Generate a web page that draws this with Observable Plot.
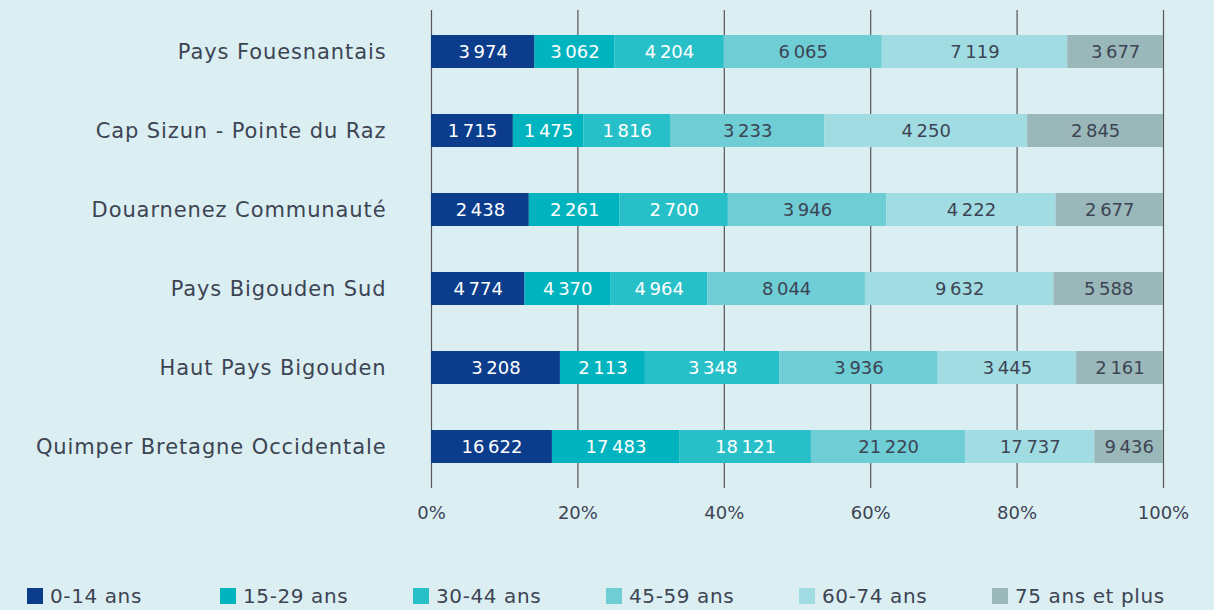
<!DOCTYPE html>
<html>
<head>
<meta charset="utf-8">
<script src="https://cdn.jsdelivr.net/npm/d3@7"></script>
<script src="https://cdn.jsdelivr.net/npm/@observablehq/plot@0.6"></script>
<style>
  html, body { margin: 0; padding: 0; background: #dbeff2; }
  body { width: 1214px; height: 610px; overflow: hidden; font-family: "DejaVu Sans", sans-serif; color: #3d4454; }
  #legend { display: flex; margin-top: 44px; padding-left: 27px; font-size: 20px; line-height: 24px; letter-spacing: 0.6px; }
  .item { display: flex; align-items: center; width: 193px; }
  .sw { width: 16px; height: 16px; margin-right: 7px; }
  .yax text { letter-spacing: 0.9px; }
</style>
</head>
<body>
<div id="chart"></div>
<div id="legend"></div>
<script>
const territories = ["Pays Fouesnantais", "Cap Sizun - Pointe du Raz", "Douarnenez Communauté", "Pays Bigouden Sud", "Haut Pays Bigouden", "Quimper Bretagne Occidentale"];
const ageGroups = ["0-14 ans", "15-29 ans", "30-44 ans", "45-59 ans", "60-74 ans", "75 ans et plus"];
const colors = ["#0c3d8c", "#00b4bf", "#28c0c8", "#6ecdd5", "#a2dce3", "#9ab8b9"];
const labelColors = ["#ffffff", "#ffffff", "#ffffff", "#3d4454", "#3d4454", "#3d4454"];
const age0_14  = [3974, 1715, 2438, 4774, 3208, 16622];
const age15_29 = [3062, 1475, 2261, 4370, 2113, 17483];
const age30_44 = [4204, 1816, 2700, 4964, 3348, 18121];
const age45_59 = [6065, 3233, 3946, 8044, 3936, 21220];
const age60_74 = [7119, 4250, 4222, 9632, 3445, 17737];
const age75    = [3677, 2845, 2677, 5588, 2161, 9436];
const xTicks = [0, 0.2, 0.4, 0.6, 0.8, 1];

const series = [age0_14, age15_29, age30_44, age45_59, age60_74, age75];
const data = [];
territories.forEach((t, i) => {
  series.forEach((s, j) => data.push({territory: t, group: ageGroups[j], gi: j, value: s[i]}));
});
const fmt = d3.formatLocale({decimal: ",", thousands: "\u2009", grouping: [3], currency: ["", "€"]}).format(",d");
const font = "DejaVu Sans, sans-serif";

const chart = Plot.plot({
  width: 1214,
  height: 540,
  marginLeft: 431,
  marginRight: 51,
  marginTop: 10,
  marginBottom: 52,
  style: {background: "transparent", fontFamily: font, fontSize: "20px", color: "#3d4454"},
  x: {domain: [0, 1], ticks: xTicks, tickFormat: d => Math.round(d * 100) + "%", tickSize: 0, tickPadding: 18, label: null},
  y: {domain: territories, paddingInner: 0.585, paddingOuter: 0.2925, align: 0.5, tickSize: 0, tickPadding: 45, label: null},
  color: {domain: ageGroups, range: colors},
  marks: [
    Plot.gridX(xTicks, {stroke: "#555", strokeOpacity: 1, strokeWidth: 1.2}),
    Plot.barX(data, Plot.stackX({x: "value", y: "territory", fill: "group", order: ageGroups, offset: "normalize"})),
    Plot.text(data, Plot.stackX({x: "value", y: "territory", z: "group", order: ageGroups, offset: "normalize",
      text: d => fmt(d.value), fill: d => labelColors[d.gi], fontSize: 18})),
    Plot.axisX({ticks: xTicks, tickFormat: d => Math.round(d * 100) + "%", tickSize: 0, tickPadding: 18, fontSize: 18, fill: "#3d4454"}),
    Plot.axisY({tickSize: 0, tickPadding: 45, fontSize: 21, fill: "#3d4454", className: "yax"})
  ]
});
document.getElementById("chart").appendChild(chart);

const legend = document.getElementById("legend");
ageGroups.forEach((g, i) => {
  const item = document.createElement("div");
  item.className = "item";
  const sw = document.createElement("span");
  sw.className = "sw";
  sw.style.background = colors[i];
  const lab = document.createElement("span");
  lab.textContent = g;
  item.appendChild(sw);
  item.appendChild(lab);
  legend.appendChild(item);
});
</script>
</body>
</html>
